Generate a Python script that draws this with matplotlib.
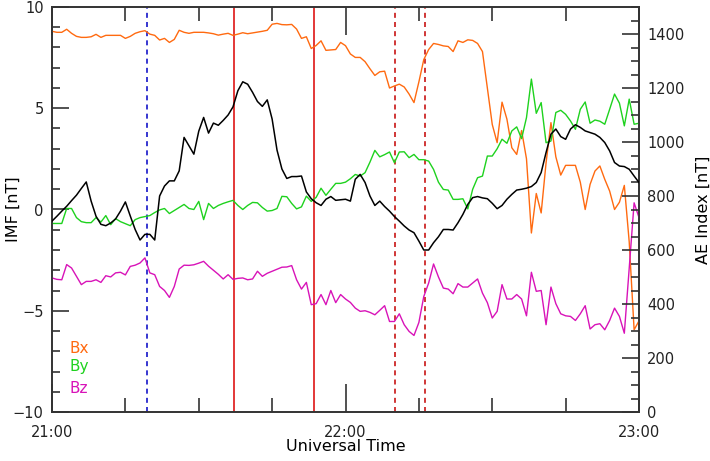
import numpy as np
import matplotlib
matplotlib.use("Agg")
import matplotlib.pyplot as plt
from matplotlib.ticker import MultipleLocator, FixedLocator

# minutes after 21:00 UT (1-min cadence)
minutes = list(range(0, 121))

bx = [8.8, 8.75, 8.75, 8.9, 8.7, 8.55, 8.5, 8.5, 8.53, 8.65, 8.5, 8.6, 8.6, 8.6, 8.6, 8.45, 8.55, 8.7, 8.78, 8.83,
      8.66, 8.6, 8.37, 8.45, 8.25, 8.4, 8.85, 8.75, 8.7, 8.75, 8.75, 8.75, 8.72, 8.68, 8.61, 8.66, 8.7, 8.6, 8.66, 8.73,
      8.68, 8.72, 8.76, 8.8, 8.85, 9.15, 9.19, 9.13, 9.12, 9.14, 8.91, 8.45, 8.53, 7.95, 8.1, 8.33, 7.86, 7.88, 7.9, 8.25,
      8.09, 7.68, 7.51, 7.51, 7.3, 6.95, 6.62, 6.8, 6.83, 6.0, 6.1, 6.19, 6.05, 5.7, 5.28, 6.3, 7.4, 7.9, 8.2, 8.15,
      8.08, 8.05, 7.8, 8.33, 8.25, 8.38, 8.35, 8.2, 7.8, 6.0, 4.2, 3.3, 5.3, 4.46, 3.05, 2.72, 3.9, 2.5, -1.16, 0.79,
      -0.17, 2.3, 4.29, 2.6, 1.7, 2.18, 2.18, 2.18, 1.35, 0.0, 1.24, 1.9, 2.15, 1.49, 0.91, 0.0, 0.36, 1.19, -1.6, -5.94,
      -5.5]

by = [-0.69, -0.69, -0.69, 0.05, 0.05, -0.4, -0.6, -0.65, -0.65, -0.4, -0.62, -0.3, -0.75, -0.45, -0.6, -0.7, -0.8, -0.5, -0.4, -0.35,
      -0.3, -0.15, -0.02, 0.05, -0.2, -0.05, 0.1, 0.25, 0.05, 0.0, 0.4, -0.5, 0.3, 0.05, 0.2, 0.3, 0.38, 0.45, 0.2, 0.0,
      0.2, 0.35, 0.33, 0.1, -0.08, -0.05, 0.05, 0.65, 0.63, 0.3, 0.03, 0.13, 0.66, 0.4, 0.6, 1.05, 0.7, 1.0, 1.29, 1.29,
      1.35, 1.52, 1.73, 1.65, 1.82, 2.34, 2.92, 2.6, 2.71, 2.84, 2.31, 2.84, 2.85, 2.56, 2.72, 2.46, 2.46, 2.39, 1.98, 1.35,
      0.99, 0.96, 0.5, 0.5, 0.53, 0.03, 1.0, 1.57, 1.65, 2.64, 2.64, 3.0, 3.47, 3.27, 3.88, 4.08, 3.5, 4.54, 6.44, 4.75,
      5.28, 3.3, 3.38, 4.79, 4.9, 4.7, 4.37, 3.96, 4.95, 5.31, 4.26, 4.42, 4.36, 4.21, 4.95, 5.7, 5.25, 4.13, 5.45, 4.21,
      4.26]

bz = [-3.38, -3.45, -3.47, -2.72, -2.89, -3.3, -3.71, -3.55, -3.55, -3.47, -3.6, -3.27, -3.33, -3.13, -3.1, -3.23, -2.81, -2.75, -2.64, -2.39,
      -3.13, -3.22, -3.8, -4.0, -4.34, -3.8, -2.94, -2.75, -2.76, -2.73, -2.65, -2.56, -2.8, -3.0, -3.2, -3.43, -3.22, -3.45, -3.4, -3.38,
      -3.47, -3.43, -3.05, -3.3, -3.15, -3.05, -2.95, -2.85, -2.84, -2.77, -3.47, -3.93, -3.6, -4.7, -4.65, -4.2, -4.7, -4.0, -4.6, -4.2,
      -4.42, -4.59, -4.87, -5.03, -5.0, -5.08, -5.2, -4.98, -4.75, -5.53, -5.53, -5.15, -5.69, -6.02, -6.22, -5.58, -4.3, -3.63, -2.69, -3.33,
      -3.88, -3.93, -4.16, -3.66, -3.83, -3.83, -3.63, -3.43, -4.13, -4.6, -5.36, -5.03, -3.71, -4.42, -4.42, -4.2, -4.42, -5.25, -3.1, -4.04,
      -4.0, -5.69, -3.83, -4.65, -5.15, -5.25, -5.28, -5.48, -5.15, -4.75, -5.9, -5.69, -5.64, -5.94, -5.48, -4.87, -5.28, -6.11, -2.9, 0.33,
      -0.4]

ae = [707, 725, 744, 762, 783, 803, 828, 852, 781, 725, 695, 690, 700, 715, 744, 778, 726, 676, 637, 658,
      658, 637, 800, 837, 856, 856, 893, 1017, 986, 955, 1040, 1091, 1033, 1070, 1062, 1080, 1100, 1130, 1190, 1223,
      1214, 1184, 1150, 1132, 1156, 1085, 970, 900, 865, 872, 872, 874, 815, 790, 775, 765, 788, 798, 784, 786,
      788, 781, 862, 880, 850, 800, 765, 781, 761, 744, 724, 707, 689, 674, 664, 633, 600, 600, 627, 649,
      676, 676, 674, 701, 732, 769, 794, 798, 793, 790, 773, 753, 765, 788, 806, 822, 825, 829, 835, 850,
      887, 961, 1029, 1048, 1020, 1010, 1048, 1064, 1054, 1041, 1035, 1029, 1017, 998, 967, 924, 911, 909, 899, 874,
      850]

# event times (minutes after 21:00)
blue_dash = [19.5]
red_solid = [37.2, 53.6]
red_dash = [70.2, 76.3]

xtick_pos = [0, 60, 120]
xtick_labels = ["21:00", "22:00", "23:00"]

plt.rcParams['font.family'] = ['DejaVu Sans']
fig = plt.figure(figsize=(7.10, 4.61), dpi=100)
ax = fig.add_axes([52/710, 49/461, 587/710, 405/461])
ax2 = ax.twinx()

c_bx = '#ff6a10'
c_by = '#1ed21e'
c_bz = '#d813b8'

ax.plot(minutes, bx, color=c_bx, lw=1.0, zorder=3)
ax.plot(minutes, by, color=c_by, lw=1.0, zorder=3)
ax.plot(minutes, bz, color=c_bz, lw=1.0, zorder=3)
ax2.plot(minutes, ae, color='black', lw=1.1, zorder=3)

for t in blue_dash:
    ax.axvline(t, color='#1414c8', lw=1.2, ls=(0, (3, 2.5)))
for t in red_solid:
    ax.axvline(t, color='#e02828', lw=1.3)
for t in red_dash:
    ax.axvline(t, color='#c81414', lw=1.2, ls=(0, (3, 2.5)))

ax.set_xlim(0, 120)
ax.set_ylim(-10, 10)
ax2.set_ylim(0, 1500)

ax.xaxis.set_major_locator(FixedLocator(xtick_pos))
ax.set_xticklabels(xtick_labels)
ax.xaxis.set_minor_locator(MultipleLocator(15))
ax.yaxis.set_major_locator(MultipleLocator(5))
ax.yaxis.set_minor_locator(MultipleLocator(1))
ax2.yaxis.set_major_locator(MultipleLocator(200))
ax2.yaxis.set_minor_locator(MultipleLocator(50))

tc = '#333333'
fs_tick = 10.5
ax.tick_params(axis='x', which='major', direction='in', length=20, width=1.2, top=True, color=tc,
               labelsize=fs_tick, pad=9, labelcolor='#222222')
ax.tick_params(axis='x', which='minor', direction='in', length=10, width=1.2, top=True, color=tc)
ax.tick_params(axis='y', which='major', direction='in', length=12, width=1.2, color=tc, labelsize=fs_tick, pad=6,
               labelcolor='#222222')
ax.tick_params(axis='y', which='minor', direction='in', length=6, width=1.2, color=tc)
ax2.tick_params(axis='y', which='major', direction='in', length=12, width=1.2, color=tc, labelsize=fs_tick, pad=6,
                labelcolor='#222222')
ax2.tick_params(axis='y', which='minor', direction='in', length=6, width=1.2, color=tc)

for a in (ax, ax2):
    for s in a.spines.values():
        s.set_color(tc)
        s.set_linewidth(1.2)

ax.set_yticks([-10, -5, 0, 5, 10])
ax.set_yticklabels(['\u221210', '\u22125', '0', '5', '10'])

ax.set_xlabel('Universal Time', fontsize=11.5)
ax.xaxis.set_label_coords(0.5, -0.066)
ax.set_ylabel('IMF [nT]', fontsize=11.5)
ax.yaxis.set_label_coords(-0.054, 0.5)
ax2.set_ylabel('AE Index [nT]', fontsize=11.5)
ax2.yaxis.set_label_coords(1.096, 0.5)

ax.text(0.029, 0.158, 'Bx', color=c_bx, fontsize=11, transform=ax.transAxes, va='center')
ax.text(0.029, 0.112, 'By', color=c_by, fontsize=11, transform=ax.transAxes, va='center')
ax.text(0.029, 0.058, 'Bz', color=c_bz, fontsize=11, transform=ax.transAxes, va='center')

fig.savefig('out.png', dpi=100)
